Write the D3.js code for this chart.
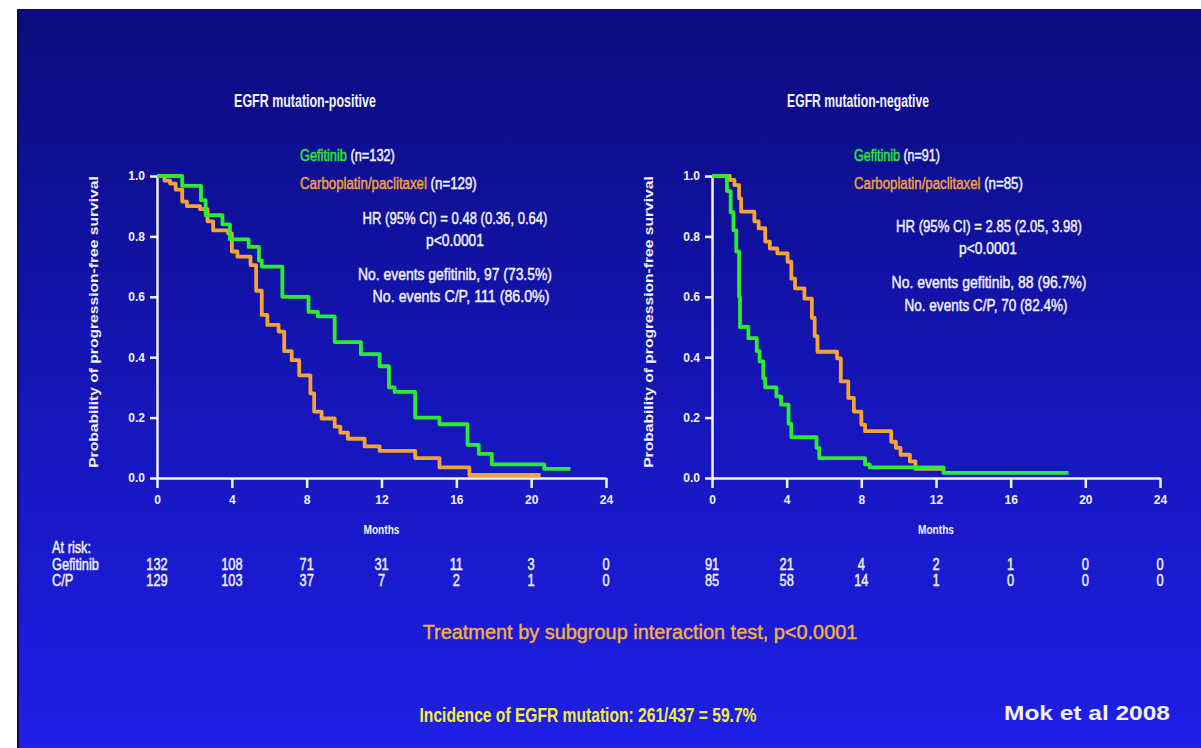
<!DOCTYPE html>
<html>
<head>
<meta charset="utf-8">
<script src="https://cdn.jsdelivr.net/npm/d3@7"></script>
<style>
  body { margin: 0; background: #fff; }
  text { font-family: "Liberation Sans", Arial, sans-serif; }
</style>
</head>
<body>
<div id="chart"></div>
<script>
// shared axis ticks
const monthTicks = [0, 4, 8, 12, 16, 20, 24];
const probTicks = [0, 0.2, 0.4, 0.6, 0.8, 1.0];

// EGFR mutation-positive: Kaplan-Meier steps (months, PFS)
const posGefTime = [0, 1.35, 2.35, 2.6, 3.5, 3.9, 4.9, 5.45, 5.6, 6.7, 8.1, 8.6, 9.5, 10.9, 11.9, 12.4, 12.7, 13.8, 15.1, 16.6, 17.2, 17.9, 20.7, 22.1];
const posGefSurv = [1, 0.967, 0.92, 0.87, 0.84, 0.79, 0.765, 0.72, 0.70, 0.60, 0.55, 0.535, 0.45, 0.41, 0.37, 0.30, 0.285, 0.20, 0.178, 0.11, 0.08, 0.045, 0.03, 0.03];
const posCPTime = [0, 0.4, 0.7, 1.0, 1.35, 1.6, 2.3, 2.7, 3.0, 3.8, 4.0, 4.3, 5.0, 5.3, 5.6, 5.9, 6.5, 6.8, 7.2, 7.6, 8.2, 8.4, 8.8, 9.5, 9.8, 10.2, 11.1, 11.9, 13.8, 15.1, 16.7, 20.5];
const posCPSurv = [1, 0.985, 0.975, 0.955, 0.915, 0.9, 0.89, 0.85, 0.82, 0.81, 0.75, 0.733, 0.705, 0.62, 0.54, 0.507, 0.485, 0.42, 0.39, 0.34, 0.28, 0.22, 0.197, 0.17, 0.15, 0.13, 0.105, 0.09, 0.066, 0.035, 0.01, 0.01];

// EGFR mutation-negative
const negGefTime = [0, 0.8, 1.0, 1.15, 1.3, 1.45, 1.5, 1.95, 2.4, 2.55, 2.75, 2.85, 3.45, 3.7, 4.1, 4.25, 5.6, 5.75, 8.2, 8.45, 12.4, 19.1];
const negGefSurv = [1, 0.95, 0.88, 0.82, 0.75, 0.60, 0.50, 0.463, 0.42, 0.386, 0.33, 0.30, 0.27, 0.243, 0.18, 0.135, 0.10, 0.066, 0.045, 0.035, 0.017, 0.017];
const negCPTime = [0, 0.95, 1.2, 1.45, 1.56, 2.27, 2.5, 2.85, 3.1, 3.5, 4.05, 4.25, 4.45, 4.95, 5.35, 5.5, 5.65, 6.7, 6.9, 7.3, 7.6, 8.0, 8.2, 9.6, 9.85, 10.1, 10.6, 10.9, 12.5];
const negCPSurv = [1, 0.987, 0.97, 0.926, 0.882, 0.85, 0.827, 0.783, 0.76, 0.744, 0.716, 0.66, 0.628, 0.594, 0.53, 0.47, 0.418, 0.396, 0.32, 0.265, 0.22, 0.177, 0.155, 0.12, 0.10, 0.077, 0.055, 0.03, 0.03];

// numbers at risk at each month tick
const posRiskGef = [132, 108, 71, 31, 11, 3, 0];
const posRiskCP = [129, 103, 37, 7, 2, 1, 0];
const negRiskGef = [91, 21, 4, 2, 1, 0, 0];
const negRiskCP = [85, 58, 14, 1, 0, 0, 0];

const GREEN = "#2cec2c", ORANGE = "#f5a334", WHITE = "#f2f2f2";

const svg = d3.select("#chart").append("svg")
    .attr("width", 1201).attr("height", 748);

const grad = svg.append("defs").append("linearGradient")
    .attr("id", "bg").attr("x1", 0).attr("y1", 0).attr("x2", 0).attr("y2", 1);
grad.append("stop").attr("offset", "0%").attr("stop-color", "#0b0b7c");
grad.append("stop").attr("offset", "50%").attr("stop-color", "#1515b6");
grad.append("stop").attr("offset", "100%").attr("stop-color", "#1f1fe8");

svg.append("rect").attr("x", 17).attr("y", 9).attr("width", 1184).attr("height", 739).attr("fill", "url(#bg)");
svg.append("rect").attr("x", 17).attr("y", 9).attr("width", 2).attr("height", 739).attr("fill", "#0a0a55");

// squeeze a text horizontally so it has the width it has on the slide
function fit(text, x, y, anchor, width, extra = "") {
    text.attr("text-anchor", anchor);
    const w = text.node().getComputedTextLength();
    text.attr("transform", `translate(${x},${y}) ${extra} scale(${width / w},1)`);
    return text;
}
function squeeze(text, x, y, anchor, sx) {
    return text.attr("text-anchor", anchor).attr("transform", `translate(${x},${y}) scale(${sx},1)`);
}
// slightly heavier strokes, like the blurred slide text
function heavy(text, c) {
    return text.attr("stroke", c).attr("stroke-width", 0.45);
}

function panel(p) {
    const g = svg.append("g");
    const x = d3.scaleLinear().domain([0, 24]).range([p.x0, p.x1]);
    const y = d3.scaleLinear().domain([0, 1]).range([478, 176]);

    const yAxis = g.append("g")
        .attr("transform", `translate(${p.x0},0)`)
        .call(d3.axisLeft(y).tickValues(probTicks).tickFormat(d3.format(".1f")).tickSize(7).tickSizeOuter(0).tickPadding(5));
    const xAxis = g.append("g")
        .attr("transform", "translate(0,478)")
        .call(d3.axisBottom(x).tickValues(monthTicks).tickSize(10).tickSizeOuter(0).tickPadding(7));
    [xAxis, yAxis].forEach(a => {
        a.select(".domain").attr("stroke", WHITE).attr("stroke-width", 2.5);
        a.selectAll(".tick line").attr("stroke", WHITE).attr("stroke-width", 2.5);
        a.selectAll(".tick text").attr("fill", WHITE).attr("font-size", 12).attr("font-weight", "bold");
    });

    const line = d3.line().curve(d3.curveStepAfter).x(d => x(d[0])).y(d => y(d[1]));
    [[p.cpT, p.cpS, ORANGE], [p.gefT, p.gefS, GREEN]].forEach(([t, s, c]) => {
        g.append("path")
            .datum(d3.zip(t, s))
            .attr("fill", "none").attr("stroke", c).attr("stroke-width", 3.8)
            .attr("stroke-linejoin", "round")
            .attr("d", line);
    });

    // titles and annotations
    fit(g.append("text").attr("fill", WHITE).attr("font-size", 19).attr("font-weight", "bold").text(p.title),
        p.titleX, 107, "middle", 142);

    const l1 = g.append("text").attr("font-size", 16).attr("stroke-width", 0.45);
    l1.append("tspan").attr("fill", GREEN).attr("stroke", GREEN).text("Gefitinib");
    l1.append("tspan").attr("fill", WHITE).attr("stroke", WHITE).text(` (n=${p.nGef})`);
    fit(l1, p.legX, 161, "start", p.leg1W);
    const l2 = g.append("text").attr("font-size", 16).attr("stroke-width", 0.45);
    l2.append("tspan").attr("fill", ORANGE).attr("stroke", ORANGE).text("Carboplatin/paclitaxel");
    l2.append("tspan").attr("fill", WHITE).attr("stroke", WHITE).text(` (n=${p.nCP})`);
    fit(l2, p.legX, 189, "start", p.leg2W);

    p.notes.forEach(n => {
        fit(heavy(g.append("text").attr("fill", WHITE).attr("font-size", 17).text(n.text), WHITE),
            n.x, n.y, "middle", n.w);
    });

    fit(g.append("text").attr("fill", WHITE).attr("font-size", 13).attr("font-weight", "bold")
            .text("Probability of progression-free survival"),
        p.x0 - 59, 322, "middle", 292, "rotate(-90)");

    fit(g.append("text").attr("fill", WHITE).attr("font-size", 12).attr("font-weight", "bold").text("Months"),
        (p.x0 + p.x1) / 2, 534, "middle", 36);

    // numbers at risk under each tick
    [[p.riskGef, 570], [p.riskCP, 586]].forEach(([vals, yy]) => {
        vals.forEach((v, i) => {
            squeeze(heavy(g.append("text").attr("fill", WHITE).attr("font-size", 16).text(v), WHITE),
                x(monthTicks[i]), yy, "middle", 0.8);
        });
    });
}

panel({
    x0: 157, x1: 606, title: "EGFR mutation-positive", titleX: 305,
    gefT: posGefTime, gefS: posGefSurv, cpT: posCPTime, cpS: posCPSurv,
    nGef: 132, nCP: 129, legX: 300, leg1W: 95, leg2W: 177,
    notes: [
        { text: "HR (95% CI) = 0.48 (0.36, 0.64)", x: 455, y: 224, w: 185 },
        { text: "p<0.0001", x: 455, y: 246, w: 58 },
        { text: "No. events gefitinib,  97 (73.5%)", x: 455, y: 280, w: 194 },
        { text: "No. events C/P,  111 (86.0%)", x: 461, y: 302, w: 177 }
    ],
    riskGef: posRiskGef, riskCP: posRiskCP
});

panel({
    x0: 712, x1: 1160, title: "EGFR mutation-negative", titleX: 858,
    gefT: negGefTime, gefS: negGefSurv, cpT: negCPTime, cpS: negCPSurv,
    nGef: 91, nCP: 85, legX: 854, leg1W: 86, leg2W: 169,
    notes: [
        { text: "HR (95% CI) = 2.85 (2.05, 3.98)", x: 989, y: 232, w: 186 },
        { text: "p<0.0001", x: 988, y: 254, w: 58 },
        { text: "No. events gefitinib, 88 (96.7%)", x: 989, y: 288, w: 195 },
        { text: "No. events C/P, 70 (82.4%)", x: 986, y: 311, w: 163 }
    ],
    riskGef: negRiskGef, riskCP: negRiskCP
});

// at-risk row headers
[["At risk:", 553], ["Gefitinib", 570], ["C/P", 586]].forEach(([t, yy]) => {
    squeeze(heavy(svg.append("text").attr("fill", WHITE).attr("font-size", 16).text(t), WHITE), 52, yy, "start", 0.8);
});

// footer lines
fit(heavy(svg.append("text").attr("fill", "#f2b13a").attr("font-size", 21).text("Treatment by subgroup interaction test, p<0.0001"), "#f2b13a"),
    640, 639, "middle", 435);
fit(svg.append("text").attr("fill", "#f4ee3c").attr("font-size", 21).attr("font-weight", "bold").text("Incidence of EGFR mutation: 261/437 = 59.7%"),
    588, 722, "middle", 337);
fit(svg.append("text").attr("fill", WHITE).attr("font-size", 21).attr("font-weight", "bold").text("Mok et al 2008"),
    1004, 720, "start", 166);
</script>
</body>
</html>
